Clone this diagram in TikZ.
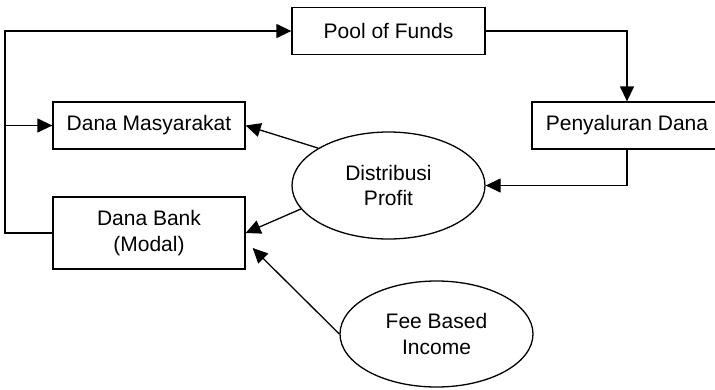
\documentclass[tikz,border=0pt]{standalone}
\usepackage{fontspec}
\setmainfont{Liberation Sans}
\usetikzlibrary{arrows.meta,shapes.geometric}
\begin{document}
\begin{tikzpicture}[x=1pt,y=-1pt,
  every node/.style={font=\fontsize{21}{25.5}\selectfont, align=center, inner sep=0pt},
  box/.style={draw, line width=1.3pt, rectangle, minimum width=192pt},
  oval/.style={draw, line width=1.3pt, ellipse, minimum width=193pt, minimum height=107pt},
  link/.style={line width=1.3pt, -{Triangle[length=15pt,width=14pt]}}]
  \useasboundingbox (0,0) rectangle (715,389);
  \clip (0,0) rectangle (715,389);

  % boxes
  \node[box, minimum width=193pt, minimum height=47pt] (pool) at (388.5,31) {Pool of Funds};
  \node[box, minimum height=47pt] (masy) at (149,125.5) {Dana Masyarakat};
  \node[box, minimum height=72pt] (bank) at (149,233) {Dana Bank\\(Modal)};
  \node[box, minimum width=190pt, minimum height=47pt] (peny) at (627,125.5) {Penyaluran Dana};

  % ellipses
  \node[oval] (dist) at (388.5,185.5) {Distribusi\\Profit};
  \node[oval, minimum height=106pt] (fee) at (436.5,334) {Fee Based\\Income};

  % feedback loop on the left
  \coordinate (top) at (5,31);
  \coordinate (mid) at (5,125.5);
  \draw[link] (bank.west) -- (bank.west -| top) -- (top) -- (pool.west);
  \draw[link] (mid) -- (masy.west);

  % main flow
  \draw[link] (pool.east) -| (peny.north);
  \draw[link] (peny.south) |- (dist.east);
  \draw[link] (dist.152) -- (masy.east);
  \draw[link] (dist.195) -- (bank.east);
  \draw[link] (fee.west) -- ([shift={(7pt,-15pt)}]bank.east);
\end{tikzpicture}
\end{document}
